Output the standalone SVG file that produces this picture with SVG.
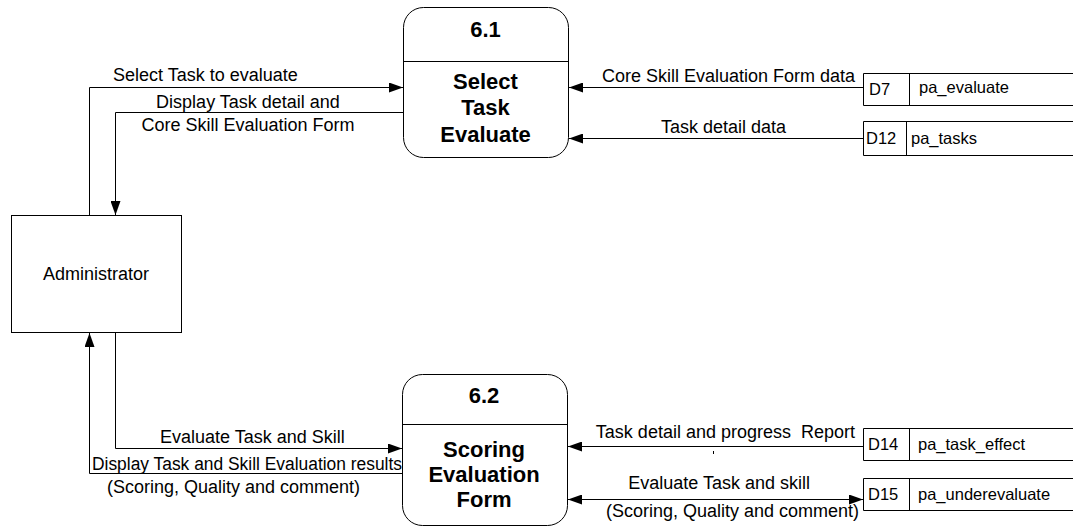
<svg xmlns="http://www.w3.org/2000/svg" width="1073" height="527" viewBox="0 0 1073 527">
  <style>
    .box { fill: #fff; stroke: #000; stroke-width: 1; }
    .ln { fill: none; stroke: #000; stroke-width: 1; }
    .lbl { font-family: "Liberation Sans", Arial, sans-serif; font-size: 18px; fill: #000; }
    .st { font-family: "Liberation Sans", Arial, sans-serif; font-size: 16.5px; fill: #000; }
    .pid { font-family: "Liberation Sans", Arial, sans-serif; font-size: 22px; font-weight: bold; fill: #000; text-anchor: middle; }
  </style>
  <defs>
    <marker id="arr" markerWidth="14" markerHeight="10" refX="14" refY="5" orient="auto-start-reverse" markerUnits="userSpaceOnUse">
      <path d="M0,0 L14,5 L0,10 Z" fill="#000"/>
    </marker>
  </defs>
  <rect width="1073" height="527" fill="#fff"/>

  <!-- external entity -->
  <g id="administrator">
    <rect class="box" x="11.5" y="215.5" width="170" height="117"/>
    <text class="lbl" x="96" y="280" text-anchor="middle">Administrator</text>
  </g>

  <!-- process 6.1 -->
  <g id="p61">
    <rect class="box" x="403.5" y="7.5" width="165" height="150" rx="20" ry="20"/>
    <line class="ln" x1="403.5" y1="61.5" x2="568.5" y2="61.5"/>
    <text class="pid" x="485.5" y="37">6.1</text>
    <text class="pid" x="485.5" y="89">Select</text>
    <text class="pid" x="485.5" y="115">Task</text>
    <text class="pid" x="485.5" y="142">Evaluate</text>
  </g>

  <!-- process 6.2 -->
  <g id="p62">
    <rect class="box" x="402.5" y="374.5" width="165" height="151" rx="20" ry="20"/>
    <line class="ln" x1="402.5" y1="424.5" x2="567.5" y2="424.5"/>
    <text class="pid" x="484" y="403">6.2</text>
    <text class="pid" x="484" y="457">Scoring</text>
    <text class="pid" x="484" y="482">Evaluation</text>
    <text class="pid" x="484" y="507">Form</text>
  </g>

  <!-- data stores -->
  <g id="d7">
    <path class="ln" d="M1073,73.5 H863.5 V105.5 H1073"/>
    <line class="ln" x1="909.5" y1="73.5" x2="909.5" y2="105.5"/>
    <text class="st" x="869" y="95">D7</text>
    <text class="st" x="919" y="93">pa_evaluate</text>
  </g>
  <g id="d12">
    <path class="ln" d="M1073,121.5 H863.5 V155.5 H1073"/>
    <line class="ln" x1="906.5" y1="121.5" x2="906.5" y2="155.5"/>
    <text class="st" x="866" y="144">D12</text>
    <text class="st" x="911" y="144">pa_tasks</text>
  </g>
  <g id="d14">
    <path class="ln" d="M1073,428.5 H863.5 V460.5 H1073"/>
    <line class="ln" x1="909.5" y1="428.5" x2="909.5" y2="460.5"/>
    <text class="st" x="868" y="450">D14</text>
    <text class="st" x="918" y="450">pa_task_effect</text>
  </g>
  <g id="d15">
    <path class="ln" d="M1073,478.5 H863.5 V510.5 H1073"/>
    <line class="ln" x1="909.5" y1="478.5" x2="909.5" y2="510.5"/>
    <text class="st" x="868" y="500">D15</text>
    <text class="st" x="918" y="500">pa_underevaluate</text>
  </g>

  <!-- data flows -->
  <g id="connectors">
    <path class="ln" d="M89.5,215.5 V87.5 H403" marker-end="url(#arr)"/>
    <text class="lbl" x="113" y="81">Select Task to evaluate</text>

    <path class="ln" d="M403.5,112.5 H115.5 V215" marker-end="url(#arr)"/>
    <text class="lbl" x="248" y="108" text-anchor="middle">Display Task detail and</text>
    <text class="lbl" x="248" y="131" text-anchor="middle">Core Skill Evaluation Form</text>

    <path class="ln" d="M863.5,87.5 H569" marker-end="url(#arr)"/>
    <text class="lbl" x="855" y="82" text-anchor="end">Core Skill Evaluation Form data</text>

    <path class="ln" d="M863.5,138.5 H569" marker-end="url(#arr)"/>
    <text class="lbl" x="786" y="133" text-anchor="end">Task detail data</text>

    <path class="ln" d="M115.5,332.5 V448.5 H402" marker-end="url(#arr)"/>
    <text class="lbl" x="160" y="443">Evaluate Task and Skill</text>

    <path class="ln" d="M402.5,473.5 H89.5 V333" marker-end="url(#arr)"/>
    <text class="lbl" x="92" y="470" textLength="310" lengthAdjust="spacingAndGlyphs">Display Task and Skill Evaluation results</text>
    <text class="lbl" x="107" y="493">(Scoring, Quality and comment)</text>

    <path class="ln" d="M863.5,446.5 H568" marker-end="url(#arr)"/>
    <text class="lbl" x="855" y="438" text-anchor="end" xml:space="preserve">Task detail and progress  Report</text>
    <line class="ln" x1="713.5" y1="451" x2="713.5" y2="454"/>

    <path class="ln" d="M568,499.5 H863" marker-start="url(#arr)" marker-end="url(#arr)"/>
    <text class="lbl" x="810" y="489" text-anchor="end">Evaluate Task and skill</text>
    <text class="lbl" x="859" y="517" text-anchor="end">(Scoring, Quality and comment)</text>
  </g>
</svg>
